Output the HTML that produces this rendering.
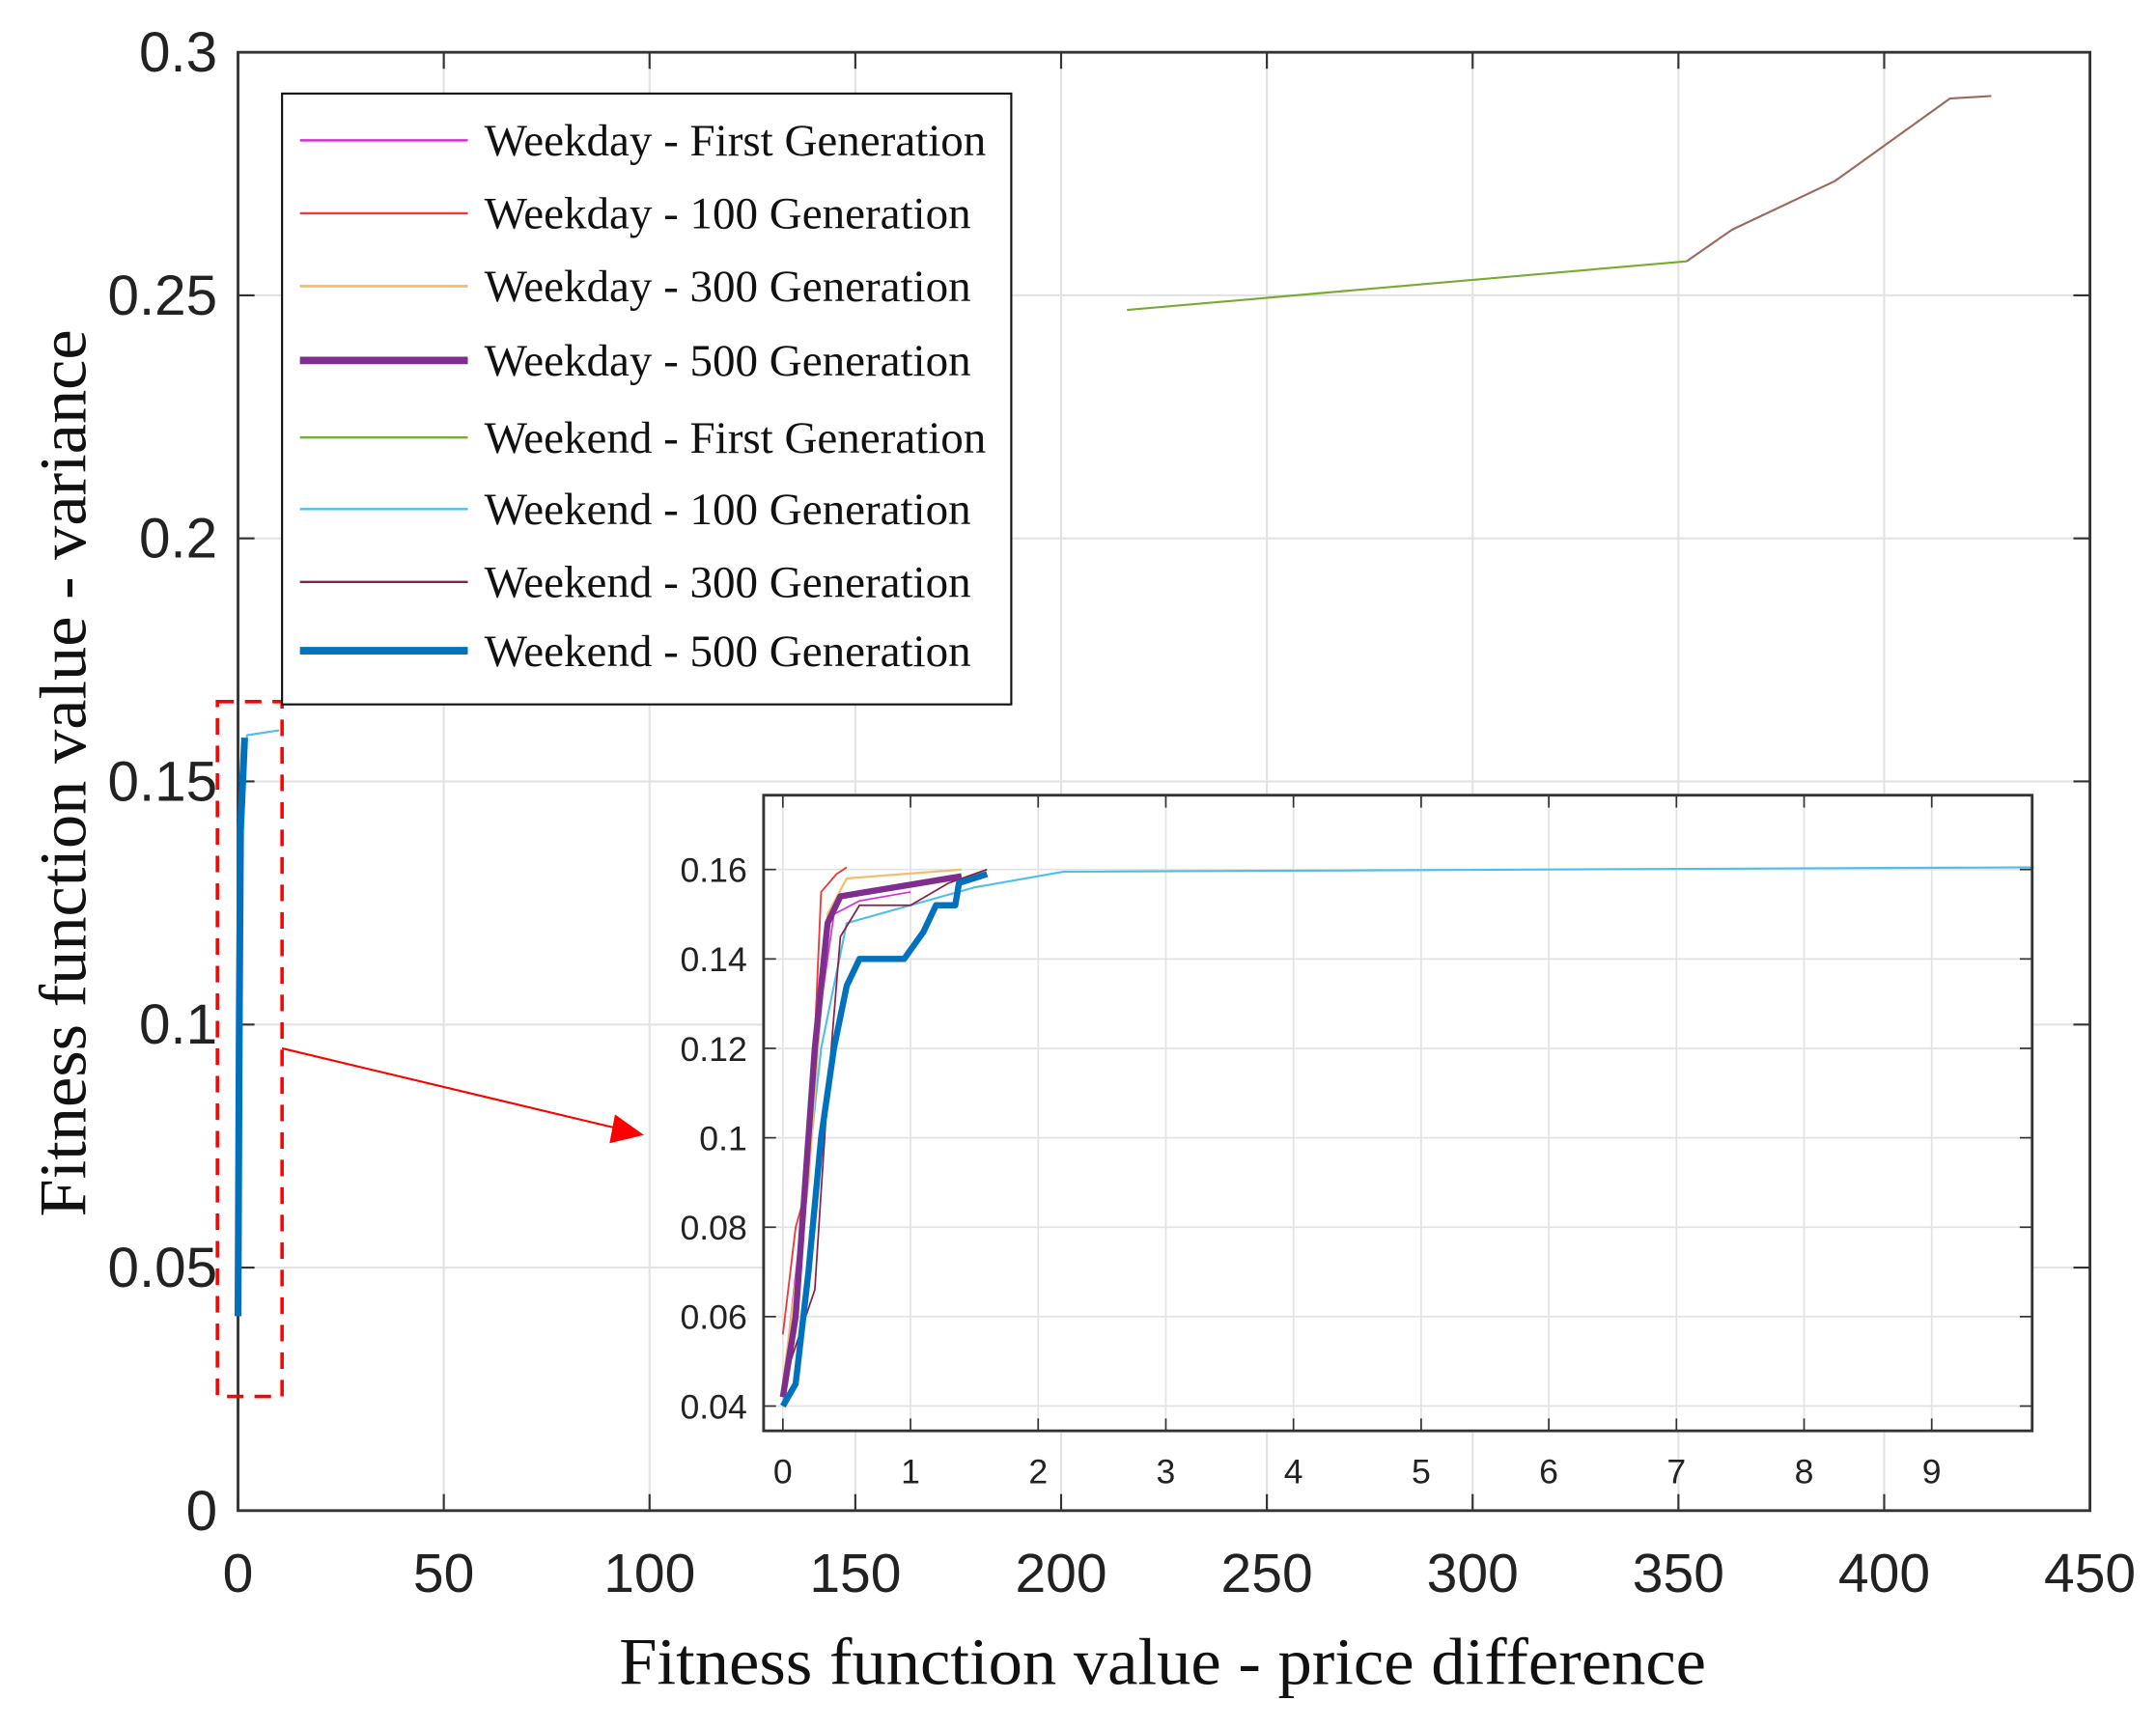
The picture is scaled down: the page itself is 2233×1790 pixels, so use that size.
<!DOCTYPE html>
<html><head><meta charset="utf-8"><style>
html,body{margin:0;padding:0;background:#fff;}
svg{display:block;}
</style></head><body>
<svg id="chart" width="2233" height="1790" viewBox="0 0 1567 1256" preserveAspectRatio="none" xmlns="http://www.w3.org/2000/svg">
<rect width="1567" height="1256" fill="#fff"/>
<g id="main"></g>
<g id="inset"></g>
<g id="legend"></g>
</svg>
<script>
const mainXTicks=[0,50,100,150,200,250,300,350,400,450];
const mainYTicks=[0,0.05,0.1,0.15,0.2,0.25,0.3];
const mainYLabels=["0","0.05","0.1","0.15","0.2","0.25","0.3"];
const insetXTicks=[0,1,2,3,4,5,6,7,8,9];
const insetYTicks=[0.04,0.06,0.08,0.1,0.12,0.14,0.16];
const insetYLabels=["0.04","0.06","0.08","0.1","0.12","0.14","0.16"];
const seriesNames=["Weekday - First Generation","Weekday - 100 Generation","Weekday - 300 Generation","Weekday - 500 Generation","Weekend - First Generation","Weekend - 100 Generation","Weekend - 300 Generation","Weekend - 500 Generation"];
const seriesColors=["#d62fd6","#f03a3a","#f0c070","#7e2f8e","#77ac30","#4dbeee","#8a2040","#0072bd"];
const seriesWidths=[1.2,1.2,1.5,5,1.2,1.2,1.2,5];
const weekendFirstX=[216,352];
const weekendFirstY=[0.247,0.257];
const weekend300MainX=[352,363,388,416,426];
const weekend300MainY=[0.257,0.2635,0.2735,0.2905,0.291];
const weekend100MainX=[0.5,1.5,2.2,10];
const weekend100MainY=[0.15,0.156,0.1595,0.1605];
const weekend500MainX=[0,0.3,0.6,1.6];
const weekend500MainY=[0.04,0.1,0.14,0.159];
const wd1X=[0,0.2,0.3,0.4,0.6,1.0];
const wd1Y=[0.044,0.095,0.13,0.15,0.153,0.155];
const wd100X=[0,0.1,0.2,0.3,0.42,0.5];
const wd100Y=[0.056,0.08,0.09,0.155,0.159,0.1605];
const wd300X=[0,0.2,0.35,0.5,1.4];
const wd300Y=[0.045,0.09,0.15,0.158,0.16];
const wd500X=[0,0.1,0.25,0.35,0.45,1.4];
const wd500Y=[0.042,0.06,0.12,0.148,0.154,0.1585];
const we100X=[0,0.15,0.3,0.5,1.0,1.5,2.2,9.8];
const we100Y=[0.04,0.08,0.12,0.148,0.152,0.156,0.1595,0.1605];
const we300X=[0,0.25,0.3,0.35,0.45,0.6,1.0,1.3,1.6];
const we300Y=[0.045,0.066,0.088,0.11,0.145,0.152,0.152,0.157,0.16];
const we500X=[0,0.1,0.2,0.3,0.4,0.5,0.6,0.95,1.1,1.2,1.35,1.38,1.6];
const we500Y=[0.04,0.045,0.07,0.1,0.12,0.134,0.14,0.14,0.146,0.152,0.152,0.157,0.159];

const NS="http://www.w3.org/2000/svg";
function mk(parent,tag,attrs,text){const e=document.createElementNS(NS,tag);for(const k in attrs)e.setAttribute(k,attrs[k]);if(text!==undefined)e.textContent=text;parent.appendChild(e);return e;}
const M={l:173,r:1519,t:38,b:1098,x0:0,x1:450,y0:0,y1:0.3};
const mx=v=>M.l+(v-M.x0)/(M.x1-M.x0)*(M.r-M.l);
const my=v=>M.b-(v-M.y0)/(M.y1-M.y0)*(M.b-M.t);
const I={l:555,r:1477,t:578,b:1040};
const ix=v=>569+v*(1404-569)/9;
const iy=v=>1022-(v-0.04)/0.12*(1022-632);
const g=document.getElementById('main');
for(const v of mainXTicks){const x=mx(v);
 const l=mk(g,'line',{x1:x,x2:x,y1:M.t,y2:M.b,stroke:'#e3e3e3','stroke-width':1.5});
 
 
 mk(g,'line',{x1:x,x2:x,y1:M.b,y2:M.b-12,stroke:'#333','stroke-width':1.5});
 mk(g,'line',{x1:x,x2:x,y1:M.t,y2:M.t+12,stroke:'#333','stroke-width':1.5});
 const t=mk(g,'text',{x:x,y:1157,'text-anchor':'middle','font-family':'Liberation Sans, sans-serif','font-size':40,fill:'#222'},String(v));
 
 
}
mainYTicks.forEach((v,i)=>{const y=my(v);
 const l=mk(g,'line',{x1:M.l,x2:M.r,y1:y,y2:y,stroke:'#e3e3e3','stroke-width':1.5});
 
 
 mk(g,'line',{x1:M.l,x2:M.l+12,y1:y,y2:y,stroke:'#333','stroke-width':1.5});
 mk(g,'line',{x1:M.r,x2:M.r-12,y1:y,y2:y,stroke:'#333','stroke-width':1.5});
 const t=mk(g,'text',{x:158,y:y+14,'text-anchor':'end','font-family':'Liberation Sans, sans-serif','font-size':41,fill:'#222'},mainYLabels[i]);
 
 
});
const frame=mk(g,'rect',{x:M.l,y:M.t,width:M.r-M.l,height:M.b-M.t,fill:'none',stroke:'#333','stroke-width':2});


function path(parent,X,Y,fx,fy,color,w,name){
 const d=X.map((v,i)=>(i?'L':'M')+fx(v).toFixed(1)+','+fy(Y[i]).toFixed(1)).join(' ');
 const p=mk(parent,'path',{d:d,fill:'none',stroke:color,'stroke-width':w,'stroke-linejoin':'round'});
 
 
 return p;
}
path(g,weekendFirstX,weekendFirstY,mx,my,seriesColors[4],1.5,'weekend-first-generation-line');
path(g,weekend300MainX,weekend300MainY,mx,my,'#9a6a5a',1.5,'weekend-300-generation-main-line');
path(g,weekend100MainX,weekend100MainY,mx,my,seriesColors[5],1.5,'weekend-100-generation-main-line');
path(g,weekend500MainX,weekend500MainY,mx,my,seriesColors[7],5,'weekend-500-generation-main-line');
const zr=mk(g,'rect',{x:158,y:510,width:47,height:505,fill:'none',stroke:'#f00','stroke-width':2.5,'stroke-dasharray':'12,8'});


const ar=mk(g,'line',{x1:205,y1:762,x2:448,y2:820,stroke:'#f00','stroke-width':1.5});


mk(g,'polygon',{points:'468,825 443,831 447,810',fill:'#f00'});
const xt=mk(g,'text',{x:845,y:1224,'text-anchor':'middle','font-family':'Liberation Serif, serif','font-size':48,textLength:790,lengthAdjust:'spacingAndGlyphs',fill:'#111'},'Fitness function value - price difference');


const yt=mk(g,'text',{x:0,y:0,transform:'translate(62,562) rotate(-90)','text-anchor':'middle','font-family':'Liberation Serif, serif','font-size':48,textLength:645,lengthAdjust:'spacingAndGlyphs',fill:'#111'},'Fitness function value - variance');


const h=document.getElementById('inset');
const ibg=mk(h,'rect',{x:I.l,y:I.t,width:I.r-I.l,height:I.b-I.t,fill:'#fff'});


for(const v of insetXTicks){const x=ix(v);
 mk(h,'line',{x1:x,x2:x,y1:I.t,y2:I.b,stroke:'#e3e3e3','stroke-width':1.2});
 mk(h,'line',{x1:x,x2:x,y1:I.b,y2:I.b-9,stroke:'#333','stroke-width':1.2});
 mk(h,'line',{x1:x,x2:x,y1:I.t,y2:I.t+9,stroke:'#333','stroke-width':1.2});
 const t=mk(h,'text',{x:x,y:1078,'text-anchor':'middle','font-family':'Liberation Sans, sans-serif','font-size':25,fill:'#222'},String(v));
 
 
}
insetYTicks.forEach((v,i)=>{const y=iy(v);
 mk(h,'line',{x1:I.l,x2:I.r,y1:y,y2:y,stroke:'#e3e3e3','stroke-width':1.2});
 mk(h,'line',{x1:I.l,x2:I.l+9,y1:y,y2:y,stroke:'#333','stroke-width':1.2});
 mk(h,'line',{x1:I.r,x2:I.r-9,y1:y,y2:y,stroke:'#333','stroke-width':1.2});
 const t=mk(h,'text',{x:543,y:y+9,'text-anchor':'end','font-family':'Liberation Sans, sans-serif','font-size':25,fill:'#222'},insetYLabels[i]);
 
 
});
path(h,we100X,we100Y,ix,iy,seriesColors[5],1.5,'inset-weekend-100-line');
path(h,wd1X,wd1Y,ix,iy,seriesColors[0],1.2,'inset-weekday-first-line');
path(h,wd100X,wd100Y,ix,iy,seriesColors[1],1.3,'inset-weekday-100-line');
path(h,wd300X,wd300Y,ix,iy,seriesColors[2],1.6,'inset-weekday-300-line');
path(h,we300X,we300Y,ix,iy,seriesColors[6],1.2,'inset-weekend-300-line');
path(h,wd500X,wd500Y,ix,iy,seriesColors[3],4.5,'inset-weekday-500-line');
path(h,we500X,we500Y,ix,iy,seriesColors[7],4.5,'inset-weekend-500-line');
const iframe=mk(h,'rect',{x:I.l,y:I.t,width:I.r-I.l,height:I.b-I.t,fill:'none',stroke:'#333','stroke-width':2});


const L=document.getElementById('legend');
const lb=mk(L,'rect',{x:205,y:68,width:530,height:444,fill:'#fff',stroke:'#111','stroke-width':1.5});


const legY=[102,155,208,262,318,370,423,473];
seriesNames.forEach((n,i)=>{
 const e=mk(L,'g',{});
 
 
 mk(e,'line',{x1:218,x2:340,y1:legY[i],y2:legY[i],stroke:seriesColors[i],'stroke-width':seriesWidths[i]+0.5});
 mk(e,'text',{x:352,y:legY[i]+11,'font-family':'Liberation Serif, serif','font-size':33,fill:'#111'},n);
});
</script>
</body></html>
